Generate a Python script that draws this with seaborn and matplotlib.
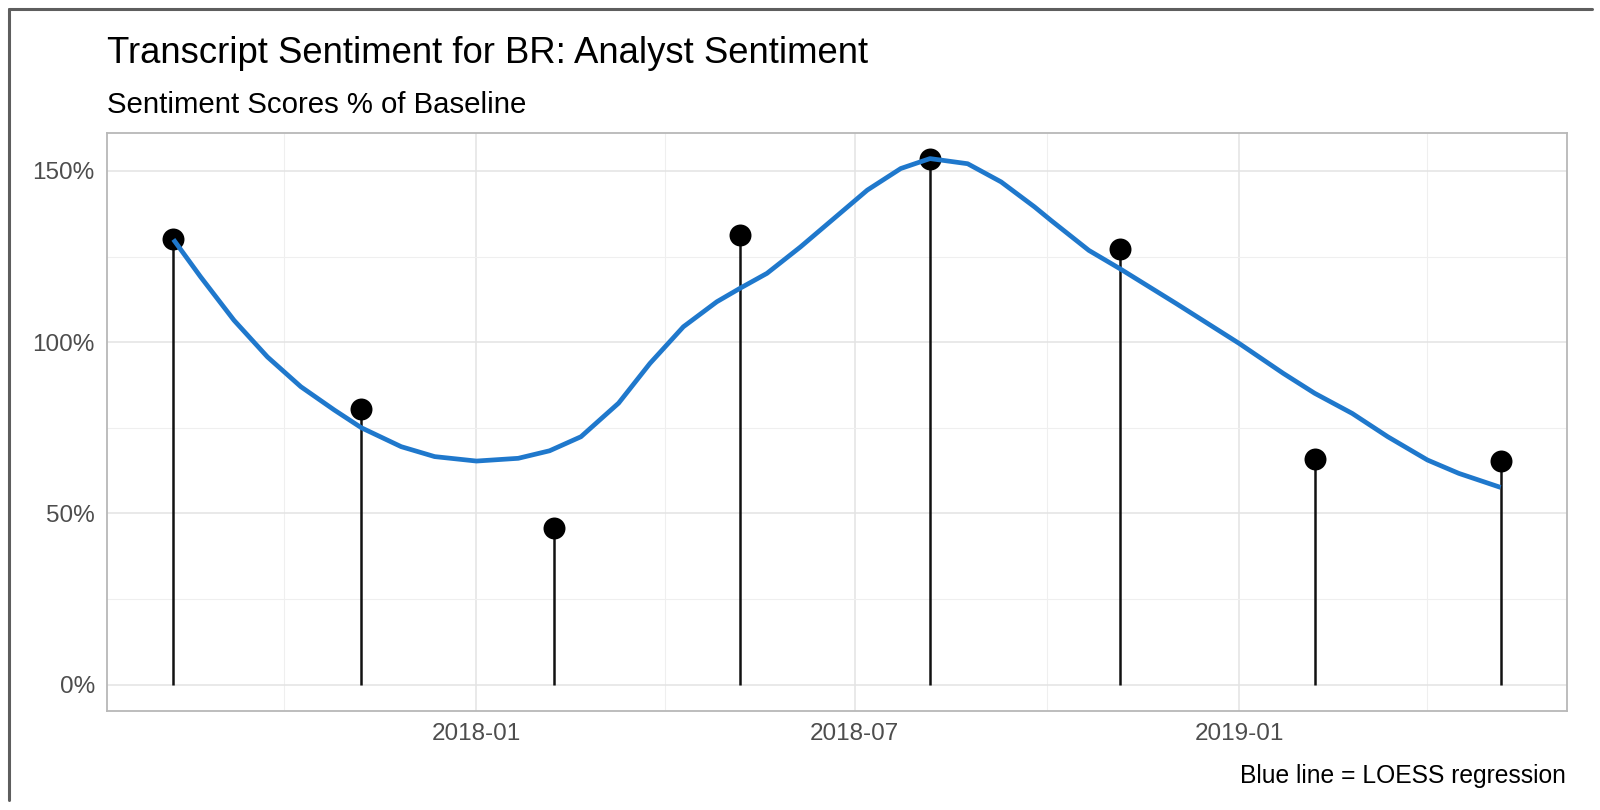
import matplotlib
matplotlib.use("Agg")
import matplotlib.pyplot as plt
import matplotlib.dates as mdates
from matplotlib.lines import Line2D
from matplotlib.ticker import FixedLocator, FuncFormatter
import seaborn as sns
import pandas as pd

# ---- data ----
call_dates = ["2017-08-09", "2017-11-07", "2018-02-07", "2018-05-07",
              "2018-08-06", "2018-11-05", "2019-02-06", "2019-05-06"]
sentiment_pct = [130.0, 80.4, 45.7, 131.3, 153.4, 127.1, 65.9, 65.4]

# LOESS line
loess_dates = ["2017-08-09", "2017-08-22", "2017-09-07", "2017-09-23", "2017-10-09",
               "2017-10-25", "2017-11-07", "2017-11-26", "2017-12-12", "2018-01-01",
               "2018-01-21", "2018-02-05", "2018-02-20", "2018-03-10", "2018-03-25",
               "2018-04-10", "2018-04-26", "2018-05-07", "2018-05-20", "2018-06-05",
               "2018-06-21", "2018-07-07", "2018-07-23", "2018-08-06", "2018-08-24",
               "2018-09-09", "2018-09-25", "2018-10-03", "2018-10-21", "2018-11-05",
               "2018-12-02", "2019-01-01", "2019-01-22", "2019-02-06", "2019-02-24",
               "2019-03-13", "2019-04-01", "2019-04-16", "2019-05-06"]
loess_pct = [130.0, 119.1, 106.4, 95.7, 87.0,
             80.2, 75.0, 69.5, 66.6, 65.3,
             66.1, 68.3, 72.4, 82.2, 93.8,
             104.5, 111.8, 115.7, 120.1, 127.8,
             136.1, 144.4, 150.7, 153.6, 152.1,
             146.8, 139.5, 135.5, 126.8, 121.4,
             111.2, 99.6, 90.9, 85.1, 79.2,
             72.4, 65.6, 61.7, 57.6]

y_ticks = [0, 50, 100, 150]
y_minor = [25, 75, 125]
x_major = ["2018-01-01", "2018-07-01", "2019-01-01"]
x_minor = ["2017-10-01", "2018-04-01", "2018-10-01", "2019-04-01"]

title = "Transcript Sentiment for BR: Analyst Sentiment"
subtitle = "Sentiment Scores % of Baseline"
caption = "Blue line = LOESS regression"

# ---- styling ----
sns.set_theme(style="white")
plt.rcParams["font.family"] = ["Liberation Sans", "DejaVu Sans"]

pts = pd.DataFrame({"date": pd.to_datetime(call_dates), "value": sentiment_pct})
curve = pd.DataFrame({"date": pd.to_datetime(loess_dates), "value": loess_pct})

fig = plt.figure(figsize=(16, 8.1), dpi=100)
ax = fig.add_axes([107 / 1600, 1 - 711 / 810, 1460 / 1600, 578 / 810])

# stems
ax.vlines(pts["date"], 0, pts["value"], color="#111111", linewidth=1.8, zorder=3)
# points
sns.scatterplot(data=pts, x="date", y="value", ax=ax, color="black", s=250,
                edgecolor="black", linewidth=0, zorder=4)
# LOESS line
sns.lineplot(data=curve, x="date", y="value", ax=ax, color="#1F78CC",
             linewidth=3.4, sort=False, estimator=None, zorder=5,
             solid_joinstyle="round", solid_capstyle="butt")

# limits with 5% expansion like ggplot
d0, d1 = pts["date"].min(), pts["date"].max()
span = d1 - d0
ax.set_xlim(d0 - span * 0.05, d1 + span * 0.05)
ymax = max(sentiment_pct)
ax.set_ylim(0 - ymax * 0.05, ymax * 1.05)

# ticks & grid
ax.xaxis.set_major_locator(FixedLocator(mdates.date2num(pd.to_datetime(x_major))))
ax.xaxis.set_minor_locator(FixedLocator(mdates.date2num(pd.to_datetime(x_minor))))
ax.xaxis.set_major_formatter(mdates.DateFormatter("%Y-%m"))
ax.yaxis.set_major_locator(FixedLocator(y_ticks))
ax.yaxis.set_minor_locator(FixedLocator(y_minor))
ax.yaxis.set_major_formatter(FuncFormatter(lambda v, p: f"{int(v)}%"))

ax.grid(which="major", color="#E3E3E3", linewidth=1.1)
ax.grid(which="minor", color="#EFEFEF", linewidth=0.8)
ax.set_axisbelow(True)

ax.tick_params(axis="both", which="major", length=4.3, width=0.9, color="#B3B3B3",
               labelsize=17.5, labelcolor="#4D4D4D", pad=4.5)
ax.tick_params(axis="both", which="minor", length=0)
ax.set_xlabel("")
ax.set_ylabel("")

for sp in ax.spines.values():
    sp.set_color("#B8B8B8")
    sp.set_linewidth(1.3)
    sp.set_visible(True)

# titles
fig.text(107 / 1600, 1 - 63 / 810, title, fontsize=26.3, color="black",
         ha="left", va="baseline")
fig.text(107 / 1600, 1 - 113 / 810, subtitle, fontsize=21.2, color="black",
         ha="left", va="baseline")
fig.text(1566 / 1600, 1 - 783 / 810, caption, fontsize=17.7, color="black",
         ha="right", va="baseline")

# outer frame (top and left edges)
fig.add_artist(Line2D([9 / 1600, 1592 / 1600], [1 - 9 / 810, 1 - 9 / 810],
                      transform=fig.transFigure, color="#5E5E5E", linewidth=2.2))
fig.add_artist(Line2D([9 / 1600, 9 / 1600], [1 - 9 / 810, 1 - 800 / 810],
                      transform=fig.transFigure, color="#5E5E5E", linewidth=2.2))

fig.savefig("out.png", dpi=100)
